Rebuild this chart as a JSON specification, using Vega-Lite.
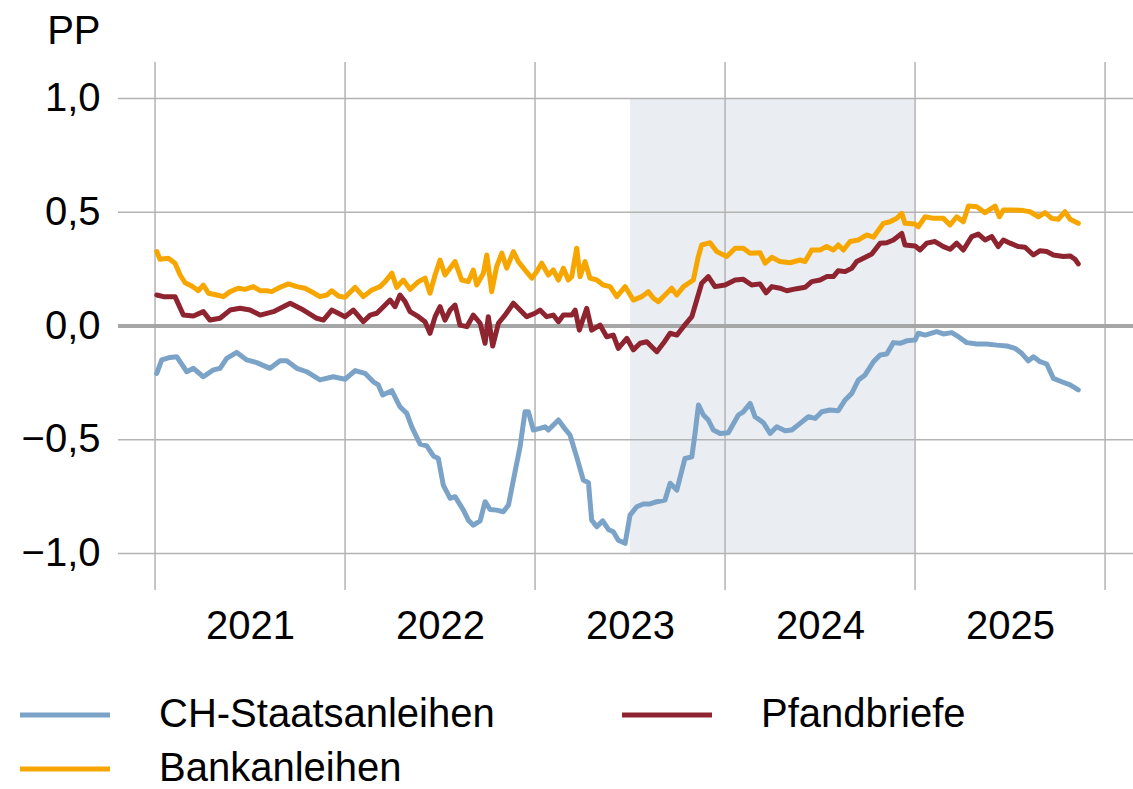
{
  "$schema": "https://vega.github.io/schema/vega-lite/v6.json",
  "width": 1015,
  "height": 528,
  "autosize": {"type": "none"},
  "padding": {"left": 118, "top": 62, "right": 0, "bottom": 199},
  "background": "white",
  "config": {
    "view": {"stroke": null},
    "font": "Liberation Sans",
    "axis": {"labelFont": "Liberation Sans", "titleFont": "Liberation Sans"},
    "legend": {"labelFont": "Liberation Sans"}
  },
  "datasets": {
    "series": [
      {"s":"Bankanleihen","t":2021.009,"v":0.327},{"s":"Bankanleihen","t":2021.026,"v":0.293},{"s":"Bankanleihen","t":2021.070,"v":0.298},{"s":"Bankanleihen","t":2021.105,"v":0.276},{"s":"Bankanleihen","t":2021.132,"v":0.224},{"s":"Bankanleihen","t":2021.158,"v":0.190},{"s":"Bankanleihen","t":2021.193,"v":0.176},{"s":"Bankanleihen","t":2021.228,"v":0.155},{"s":"Bankanleihen","t":2021.254,"v":0.180},{"s":"Bankanleihen","t":2021.281,"v":0.144},{"s":"Bankanleihen","t":2021.325,"v":0.136},{"s":"Bankanleihen","t":2021.359,"v":0.129},{"s":"Bankanleihen","t":2021.395,"v":0.151},{"s":"Bankanleihen","t":2021.438,"v":0.166},{"s":"Bankanleihen","t":2021.474,"v":0.161},{"s":"Bankanleihen","t":2021.517,"v":0.173},{"s":"Bankanleihen","t":2021.553,"v":0.155},{"s":"Bankanleihen","t":2021.588,"v":0.155},{"s":"Bankanleihen","t":2021.614,"v":0.151},{"s":"Bankanleihen","t":2021.658,"v":0.170},{"s":"Bankanleihen","t":2021.702,"v":0.185},{"s":"Bankanleihen","t":2021.746,"v":0.173},{"s":"Bankanleihen","t":2021.789,"v":0.166},{"s":"Bankanleihen","t":2021.833,"v":0.146},{"s":"Bankanleihen","t":2021.868,"v":0.129},{"s":"Bankanleihen","t":2021.904,"v":0.136},{"s":"Bankanleihen","t":2021.930,"v":0.155},{"s":"Bankanleihen","t":2021.965,"v":0.132},{"s":"Bankanleihen","t":2022.000,"v":0.126},
      {"s":"Bankanleihen","t":2022.053,"v":0.170},{"s":"Bankanleihen","t":2022.096,"v":0.129},{"s":"Bankanleihen","t":2022.141,"v":0.158},{"s":"Bankanleihen","t":2022.184,"v":0.173},{"s":"Bankanleihen","t":2022.211,"v":0.195},{"s":"Bankanleihen","t":2022.246,"v":0.232},{"s":"Bankanleihen","t":2022.272,"v":0.170},{"s":"Bankanleihen","t":2022.307,"v":0.202},{"s":"Bankanleihen","t":2022.342,"v":0.161},{"s":"Bankanleihen","t":2022.386,"v":0.195},{"s":"Bankanleihen","t":2022.421,"v":0.210},{"s":"Bankanleihen","t":2022.447,"v":0.144},{"s":"Bankanleihen","t":2022.474,"v":0.224},{"s":"Bankanleihen","t":2022.500,"v":0.290},{"s":"Bankanleihen","t":2022.526,"v":0.224},{"s":"Bankanleihen","t":2022.579,"v":0.283},{"s":"Bankanleihen","t":2022.614,"v":0.202},{"s":"Bankanleihen","t":2022.649,"v":0.195},{"s":"Bankanleihen","t":2022.675,"v":0.246},{"s":"Bankanleihen","t":2022.693,"v":0.180},{"s":"Bankanleihen","t":2022.728,"v":0.232},{"s":"Bankanleihen","t":2022.746,"v":0.312},{"s":"Bankanleihen","t":2022.772,"v":0.151},{"s":"Bankanleihen","t":2022.798,"v":0.261},{"s":"Bankanleihen","t":2022.825,"v":0.320},{"s":"Bankanleihen","t":2022.851,"v":0.254},{"s":"Bankanleihen","t":2022.886,"v":0.327},{"s":"Bankanleihen","t":2022.912,"v":0.283},{"s":"Bankanleihen","t":2022.947,"v":0.246},{"s":"Bankanleihen","t":2022.983,"v":0.210},
      {"s":"Bankanleihen","t":2023.009,"v":0.239},{"s":"Bankanleihen","t":2023.035,"v":0.276},{"s":"Bankanleihen","t":2023.070,"v":0.224},{"s":"Bankanleihen","t":2023.096,"v":0.246},{"s":"Bankanleihen","t":2023.123,"v":0.202},{"s":"Bankanleihen","t":2023.149,"v":0.254},{"s":"Bankanleihen","t":2023.175,"v":0.202},{"s":"Bankanleihen","t":2023.193,"v":0.217},{"s":"Bankanleihen","t":2023.219,"v":0.342},{"s":"Bankanleihen","t":2023.237,"v":0.217},{"s":"Bankanleihen","t":2023.263,"v":0.283},{"s":"Bankanleihen","t":2023.289,"v":0.210},{"s":"Bankanleihen","t":2023.325,"v":0.202},{"s":"Bankanleihen","t":2023.359,"v":0.180},{"s":"Bankanleihen","t":2023.395,"v":0.173},{"s":"Bankanleihen","t":2023.430,"v":0.129},{"s":"Bankanleihen","t":2023.474,"v":0.173},{"s":"Bankanleihen","t":2023.517,"v":0.114},{"s":"Bankanleihen","t":2023.562,"v":0.129},{"s":"Bankanleihen","t":2023.596,"v":0.151},{"s":"Bankanleihen","t":2023.623,"v":0.122},{"s":"Bankanleihen","t":2023.649,"v":0.107},{"s":"Bankanleihen","t":2023.684,"v":0.136},{"s":"Bankanleihen","t":2023.719,"v":0.166},{"s":"Bankanleihen","t":2023.746,"v":0.136},{"s":"Bankanleihen","t":2023.781,"v":0.173},{"s":"Bankanleihen","t":2023.833,"v":0.202},{"s":"Bankanleihen","t":2023.859,"v":0.305},{"s":"Bankanleihen","t":2023.877,"v":0.356},{"s":"Bankanleihen","t":2023.921,"v":0.366},{"s":"Bankanleihen","t":2023.956,"v":0.327},{"s":"Bankanleihen","t":2023.974,"v":0.320},
      {"s":"Bankanleihen","t":2024.009,"v":0.305},{"s":"Bankanleihen","t":2024.053,"v":0.342},{"s":"Bankanleihen","t":2024.096,"v":0.342},{"s":"Bankanleihen","t":2024.132,"v":0.320},{"s":"Bankanleihen","t":2024.184,"v":0.322},{"s":"Bankanleihen","t":2024.211,"v":0.276},{"s":"Bankanleihen","t":2024.246,"v":0.302},{"s":"Bankanleihen","t":2024.289,"v":0.283},{"s":"Bankanleihen","t":2024.342,"v":0.278},{"s":"Bankanleihen","t":2024.395,"v":0.290},{"s":"Bankanleihen","t":2024.421,"v":0.283},{"s":"Bankanleihen","t":2024.456,"v":0.334},{"s":"Bankanleihen","t":2024.500,"v":0.334},{"s":"Bankanleihen","t":2024.535,"v":0.349},{"s":"Bankanleihen","t":2024.570,"v":0.334},{"s":"Bankanleihen","t":2024.596,"v":0.356},{"s":"Bankanleihen","t":2024.623,"v":0.334},{"s":"Bankanleihen","t":2024.658,"v":0.371},{"s":"Bankanleihen","t":2024.702,"v":0.378},{"s":"Bankanleihen","t":2024.746,"v":0.400},{"s":"Bankanleihen","t":2024.781,"v":0.390},{"s":"Bankanleihen","t":2024.833,"v":0.451},{"s":"Bankanleihen","t":2024.868,"v":0.458},{"s":"Bankanleihen","t":2024.904,"v":0.473},{"s":"Bankanleihen","t":2024.930,"v":0.495},{"s":"Bankanleihen","t":2024.947,"v":0.451},{"s":"Bankanleihen","t":2025.000,"v":0.448},
      {"s":"Bankanleihen","t":2025.017,"v":0.436},{"s":"Bankanleihen","t":2025.053,"v":0.480},{"s":"Bankanleihen","t":2025.096,"v":0.473},{"s":"Bankanleihen","t":2025.149,"v":0.473},{"s":"Bankanleihen","t":2025.184,"v":0.444},{"s":"Bankanleihen","t":2025.219,"v":0.480},{"s":"Bankanleihen","t":2025.254,"v":0.458},{"s":"Bankanleihen","t":2025.281,"v":0.527},{"s":"Bankanleihen","t":2025.325,"v":0.524},{"s":"Bankanleihen","t":2025.368,"v":0.498},{"s":"Bankanleihen","t":2025.421,"v":0.527},{"s":"Bankanleihen","t":2025.444,"v":0.480},{"s":"Bankanleihen","t":2025.465,"v":0.510},{"s":"Bankanleihen","t":2025.517,"v":0.510},{"s":"Bankanleihen","t":2025.570,"v":0.507},{"s":"Bankanleihen","t":2025.605,"v":0.502},{"s":"Bankanleihen","t":2025.649,"v":0.480},{"s":"Bankanleihen","t":2025.684,"v":0.498},{"s":"Bankanleihen","t":2025.719,"v":0.473},{"s":"Bankanleihen","t":2025.754,"v":0.469},{"s":"Bankanleihen","t":2025.789,"v":0.502},{"s":"Bankanleihen","t":2025.816,"v":0.469},{"s":"Bankanleihen","t":2025.859,"v":0.451},

      {"s":"Pfandbriefe","t":2021.009,"v":0.136},{"s":"Pfandbriefe","t":2021.044,"v":0.129},{"s":"Pfandbriefe","t":2021.105,"v":0.129},{"s":"Pfandbriefe","t":2021.149,"v":0.048},{"s":"Pfandbriefe","t":2021.202,"v":0.044},{"s":"Pfandbriefe","t":2021.254,"v":0.063},{"s":"Pfandbriefe","t":2021.289,"v":0.026},{"s":"Pfandbriefe","t":2021.342,"v":0.034},{"s":"Pfandbriefe","t":2021.395,"v":0.070},{"s":"Pfandbriefe","t":2021.447,"v":0.078},{"s":"Pfandbriefe","t":2021.500,"v":0.070},{"s":"Pfandbriefe","t":2021.553,"v":0.048},{"s":"Pfandbriefe","t":2021.623,"v":0.063},{"s":"Pfandbriefe","t":2021.711,"v":0.100},{"s":"Pfandbriefe","t":2021.781,"v":0.070},{"s":"Pfandbriefe","t":2021.851,"v":0.034},{"s":"Pfandbriefe","t":2021.886,"v":0.026},{"s":"Pfandbriefe","t":2021.930,"v":0.070},{"s":"Pfandbriefe","t":2022.000,"v":0.041},
      {"s":"Pfandbriefe","t":2022.044,"v":0.070},{"s":"Pfandbriefe","t":2022.096,"v":0.019},{"s":"Pfandbriefe","t":2022.132,"v":0.048},{"s":"Pfandbriefe","t":2022.167,"v":0.056},{"s":"Pfandbriefe","t":2022.202,"v":0.085},{"s":"Pfandbriefe","t":2022.237,"v":0.114},{"s":"Pfandbriefe","t":2022.263,"v":0.085},{"s":"Pfandbriefe","t":2022.289,"v":0.136},{"s":"Pfandbriefe","t":2022.316,"v":0.107},{"s":"Pfandbriefe","t":2022.342,"v":0.063},{"s":"Pfandbriefe","t":2022.386,"v":0.041},{"s":"Pfandbriefe","t":2022.421,"v":0.019},{"s":"Pfandbriefe","t":2022.447,"v":-0.032},{"s":"Pfandbriefe","t":2022.474,"v":0.041},{"s":"Pfandbriefe","t":2022.500,"v":0.085},{"s":"Pfandbriefe","t":2022.526,"v":0.026},{"s":"Pfandbriefe","t":2022.553,"v":0.070},{"s":"Pfandbriefe","t":2022.579,"v":0.092},{"s":"Pfandbriefe","t":2022.605,"v":0.004},{"s":"Pfandbriefe","t":2022.641,"v":-0.003},{"s":"Pfandbriefe","t":2022.675,"v":0.048},{"s":"Pfandbriefe","t":2022.711,"v":0.012},{"s":"Pfandbriefe","t":2022.737,"v":-0.076},{"s":"Pfandbriefe","t":2022.754,"v":0.041},{"s":"Pfandbriefe","t":2022.777,"v":-0.088},{"s":"Pfandbriefe","t":2022.807,"v":0.012},{"s":"Pfandbriefe","t":2022.842,"v":0.048},{"s":"Pfandbriefe","t":2022.886,"v":0.100},{"s":"Pfandbriefe","t":2022.921,"v":0.070},{"s":"Pfandbriefe","t":2022.956,"v":0.041},{"s":"Pfandbriefe","t":2023.000,"v":0.056},
      {"s":"Pfandbriefe","t":2023.026,"v":0.070},{"s":"Pfandbriefe","t":2023.061,"v":0.041},{"s":"Pfandbriefe","t":2023.096,"v":0.048},{"s":"Pfandbriefe","t":2023.123,"v":0.019},{"s":"Pfandbriefe","t":2023.149,"v":0.048},{"s":"Pfandbriefe","t":2023.193,"v":0.048},{"s":"Pfandbriefe","t":2023.211,"v":0.070},{"s":"Pfandbriefe","t":2023.233,"v":-0.018},{"s":"Pfandbriefe","t":2023.254,"v":0.034},{"s":"Pfandbriefe","t":2023.272,"v":0.078},{"s":"Pfandbriefe","t":2023.298,"v":-0.018},{"s":"Pfandbriefe","t":2023.342,"v":0.004},{"s":"Pfandbriefe","t":2023.377,"v":-0.047},{"s":"Pfandbriefe","t":2023.412,"v":-0.040},{"s":"Pfandbriefe","t":2023.438,"v":-0.098},{"s":"Pfandbriefe","t":2023.483,"v":-0.054},{"s":"Pfandbriefe","t":2023.517,"v":-0.105},{"s":"Pfandbriefe","t":2023.553,"v":-0.076},{"s":"Pfandbriefe","t":2023.588,"v":-0.069},{"s":"Pfandbriefe","t":2023.614,"v":-0.091},{"s":"Pfandbriefe","t":2023.641,"v":-0.113},{"s":"Pfandbriefe","t":2023.675,"v":-0.076},{"s":"Pfandbriefe","t":2023.711,"v":-0.032},{"s":"Pfandbriefe","t":2023.746,"v":-0.040},{"s":"Pfandbriefe","t":2023.781,"v":-0.003},{"s":"Pfandbriefe","t":2023.825,"v":0.041},{"s":"Pfandbriefe","t":2023.851,"v":0.114},{"s":"Pfandbriefe","t":2023.877,"v":0.188},{"s":"Pfandbriefe","t":2023.912,"v":0.217},{"s":"Pfandbriefe","t":2023.947,"v":0.173},{"s":"Pfandbriefe","t":2024.000,"v":0.180},
      {"s":"Pfandbriefe","t":2024.053,"v":0.202},{"s":"Pfandbriefe","t":2024.096,"v":0.205},{"s":"Pfandbriefe","t":2024.140,"v":0.180},{"s":"Pfandbriefe","t":2024.184,"v":0.185},{"s":"Pfandbriefe","t":2024.216,"v":0.146},{"s":"Pfandbriefe","t":2024.246,"v":0.173},{"s":"Pfandbriefe","t":2024.289,"v":0.166},{"s":"Pfandbriefe","t":2024.325,"v":0.155},{"s":"Pfandbriefe","t":2024.377,"v":0.164},{"s":"Pfandbriefe","t":2024.421,"v":0.170},{"s":"Pfandbriefe","t":2024.456,"v":0.195},{"s":"Pfandbriefe","t":2024.500,"v":0.202},{"s":"Pfandbriefe","t":2024.535,"v":0.217},{"s":"Pfandbriefe","t":2024.570,"v":0.217},{"s":"Pfandbriefe","t":2024.596,"v":0.243},{"s":"Pfandbriefe","t":2024.632,"v":0.239},{"s":"Pfandbriefe","t":2024.667,"v":0.254},{"s":"Pfandbriefe","t":2024.693,"v":0.283},{"s":"Pfandbriefe","t":2024.728,"v":0.298},{"s":"Pfandbriefe","t":2024.772,"v":0.316},{"s":"Pfandbriefe","t":2024.816,"v":0.364},{"s":"Pfandbriefe","t":2024.851,"v":0.366},{"s":"Pfandbriefe","t":2024.886,"v":0.378},{"s":"Pfandbriefe","t":2024.930,"v":0.407},{"s":"Pfandbriefe","t":2024.947,"v":0.356},{"s":"Pfandbriefe","t":2025.000,"v":0.352},
      {"s":"Pfandbriefe","t":2025.026,"v":0.334},{"s":"Pfandbriefe","t":2025.061,"v":0.364},{"s":"Pfandbriefe","t":2025.105,"v":0.371},{"s":"Pfandbriefe","t":2025.149,"v":0.349},{"s":"Pfandbriefe","t":2025.184,"v":0.337},{"s":"Pfandbriefe","t":2025.219,"v":0.364},{"s":"Pfandbriefe","t":2025.254,"v":0.334},{"s":"Pfandbriefe","t":2025.298,"v":0.393},{"s":"Pfandbriefe","t":2025.333,"v":0.404},{"s":"Pfandbriefe","t":2025.368,"v":0.378},{"s":"Pfandbriefe","t":2025.404,"v":0.393},{"s":"Pfandbriefe","t":2025.438,"v":0.349},{"s":"Pfandbriefe","t":2025.465,"v":0.378},{"s":"Pfandbriefe","t":2025.500,"v":0.364},{"s":"Pfandbriefe","t":2025.544,"v":0.349},{"s":"Pfandbriefe","t":2025.579,"v":0.346},{"s":"Pfandbriefe","t":2025.623,"v":0.312},{"s":"Pfandbriefe","t":2025.658,"v":0.331},{"s":"Pfandbriefe","t":2025.693,"v":0.327},{"s":"Pfandbriefe","t":2025.728,"v":0.312},{"s":"Pfandbriefe","t":2025.781,"v":0.305},{"s":"Pfandbriefe","t":2025.816,"v":0.308},{"s":"Pfandbriefe","t":2025.842,"v":0.293},{"s":"Pfandbriefe","t":2025.859,"v":0.273},

      {"s":"CH-Staatsanleihen","t":2021.009,"v":-0.208},{"s":"CH-Staatsanleihen","t":2021.035,"v":-0.149},{"s":"CH-Staatsanleihen","t":2021.079,"v":-0.138},{"s":"CH-Staatsanleihen","t":2021.114,"v":-0.135},{"s":"CH-Staatsanleihen","t":2021.167,"v":-0.201},{"s":"CH-Staatsanleihen","t":2021.202,"v":-0.186},{"s":"CH-Staatsanleihen","t":2021.254,"v":-0.223},{"s":"CH-Staatsanleihen","t":2021.307,"v":-0.193},{"s":"CH-Staatsanleihen","t":2021.342,"v":-0.186},{"s":"CH-Staatsanleihen","t":2021.377,"v":-0.142},{"s":"CH-Staatsanleihen","t":2021.430,"v":-0.116},{"s":"CH-Staatsanleihen","t":2021.483,"v":-0.149},{"s":"CH-Staatsanleihen","t":2021.535,"v":-0.161},{"s":"CH-Staatsanleihen","t":2021.605,"v":-0.186},{"s":"CH-Staatsanleihen","t":2021.658,"v":-0.153},{"s":"CH-Staatsanleihen","t":2021.693,"v":-0.153},{"s":"CH-Staatsanleihen","t":2021.746,"v":-0.186},{"s":"CH-Staatsanleihen","t":2021.798,"v":-0.201},{"s":"CH-Staatsanleihen","t":2021.868,"v":-0.237},{"s":"CH-Staatsanleihen","t":2021.938,"v":-0.223},{"s":"CH-Staatsanleihen","t":2022.000,"v":-0.234},
      {"s":"CH-Staatsanleihen","t":2022.053,"v":-0.196},{"s":"CH-Staatsanleihen","t":2022.105,"v":-0.208},{"s":"CH-Staatsanleihen","t":2022.149,"v":-0.245},{"s":"CH-Staatsanleihen","t":2022.175,"v":-0.259},{"s":"CH-Staatsanleihen","t":2022.198,"v":-0.303},{"s":"CH-Staatsanleihen","t":2022.246,"v":-0.284},{"s":"CH-Staatsanleihen","t":2022.289,"v":-0.355},{"s":"CH-Staatsanleihen","t":2022.325,"v":-0.384},{"s":"CH-Staatsanleihen","t":2022.351,"v":-0.443},{"s":"CH-Staatsanleihen","t":2022.395,"v":-0.519},{"s":"CH-Staatsanleihen","t":2022.430,"v":-0.527},{"s":"CH-Staatsanleihen","t":2022.465,"v":-0.571},{"s":"CH-Staatsanleihen","t":2022.491,"v":-0.582},{"s":"CH-Staatsanleihen","t":2022.517,"v":-0.699},{"s":"CH-Staatsanleihen","t":2022.553,"v":-0.757},{"s":"CH-Staatsanleihen","t":2022.579,"v":-0.750},{"s":"CH-Staatsanleihen","t":2022.623,"v":-0.809},{"s":"CH-Staatsanleihen","t":2022.649,"v":-0.853},{"s":"CH-Staatsanleihen","t":2022.675,"v":-0.875},{"s":"CH-Staatsanleihen","t":2022.711,"v":-0.856},{"s":"CH-Staatsanleihen","t":2022.737,"v":-0.772},{"s":"CH-Staatsanleihen","t":2022.763,"v":-0.806},{"s":"CH-Staatsanleihen","t":2022.798,"v":-0.809},{"s":"CH-Staatsanleihen","t":2022.833,"v":-0.816},{"s":"CH-Staatsanleihen","t":2022.860,"v":-0.787},{"s":"CH-Staatsanleihen","t":2022.886,"v":-0.677},{"s":"CH-Staatsanleihen","t":2022.921,"v":-0.531},{"s":"CH-Staatsanleihen","t":2022.947,"v":-0.377},{"s":"CH-Staatsanleihen","t":2022.965,"v":-0.377},{"s":"CH-Staatsanleihen","t":2022.991,"v":-0.457},
      {"s":"CH-Staatsanleihen","t":2023.026,"v":-0.450},{"s":"CH-Staatsanleihen","t":2023.053,"v":-0.443},{"s":"CH-Staatsanleihen","t":2023.070,"v":-0.457},{"s":"CH-Staatsanleihen","t":2023.123,"v":-0.413},{"s":"CH-Staatsanleihen","t":2023.149,"v":-0.443},{"s":"CH-Staatsanleihen","t":2023.184,"v":-0.479},{"s":"CH-Staatsanleihen","t":2023.219,"v":-0.575},{"s":"CH-Staatsanleihen","t":2023.254,"v":-0.677},{"s":"CH-Staatsanleihen","t":2023.281,"v":-0.689},{"s":"CH-Staatsanleihen","t":2023.298,"v":-0.853},{"s":"CH-Staatsanleihen","t":2023.325,"v":-0.882},{"s":"CH-Staatsanleihen","t":2023.356,"v":-0.856},{"s":"CH-Staatsanleihen","t":2023.386,"v":-0.894},{"s":"CH-Staatsanleihen","t":2023.412,"v":-0.904},{"s":"CH-Staatsanleihen","t":2023.438,"v":-0.941},{"s":"CH-Staatsanleihen","t":2023.474,"v":-0.955},{"s":"CH-Staatsanleihen","t":2023.500,"v":-0.831},{"s":"CH-Staatsanleihen","t":2023.535,"v":-0.794},{"s":"CH-Staatsanleihen","t":2023.570,"v":-0.782},{"s":"CH-Staatsanleihen","t":2023.605,"v":-0.782},{"s":"CH-Staatsanleihen","t":2023.641,"v":-0.772},{"s":"CH-Staatsanleihen","t":2023.684,"v":-0.765},{"s":"CH-Staatsanleihen","t":2023.711,"v":-0.691},{"s":"CH-Staatsanleihen","t":2023.746,"v":-0.721},{"s":"CH-Staatsanleihen","t":2023.789,"v":-0.582},{"s":"CH-Staatsanleihen","t":2023.825,"v":-0.575},{"s":"CH-Staatsanleihen","t":2023.842,"v":-0.472},{"s":"CH-Staatsanleihen","t":2023.860,"v":-0.347},{"s":"CH-Staatsanleihen","t":2023.886,"v":-0.391},{"s":"CH-Staatsanleihen","t":2023.912,"v":-0.413},{"s":"CH-Staatsanleihen","t":2023.938,"v":-0.457},{"s":"CH-Staatsanleihen","t":2023.974,"v":-0.472},
      {"s":"CH-Staatsanleihen","t":2024.017,"v":-0.469},{"s":"CH-Staatsanleihen","t":2024.070,"v":-0.391},{"s":"CH-Staatsanleihen","t":2024.096,"v":-0.377},{"s":"CH-Staatsanleihen","t":2024.132,"v":-0.340},{"s":"CH-Staatsanleihen","t":2024.158,"v":-0.399},{"s":"CH-Staatsanleihen","t":2024.202,"v":-0.425},{"s":"CH-Staatsanleihen","t":2024.237,"v":-0.472},{"s":"CH-Staatsanleihen","t":2024.272,"v":-0.443},{"s":"CH-Staatsanleihen","t":2024.316,"v":-0.460},{"s":"CH-Staatsanleihen","t":2024.351,"v":-0.457},{"s":"CH-Staatsanleihen","t":2024.395,"v":-0.428},{"s":"CH-Staatsanleihen","t":2024.438,"v":-0.399},{"s":"CH-Staatsanleihen","t":2024.474,"v":-0.406},{"s":"CH-Staatsanleihen","t":2024.509,"v":-0.377},{"s":"CH-Staatsanleihen","t":2024.553,"v":-0.369},{"s":"CH-Staatsanleihen","t":2024.596,"v":-0.372},{"s":"CH-Staatsanleihen","t":2024.632,"v":-0.325},{"s":"CH-Staatsanleihen","t":2024.667,"v":-0.296},{"s":"CH-Staatsanleihen","t":2024.702,"v":-0.237},{"s":"CH-Staatsanleihen","t":2024.737,"v":-0.215},{"s":"CH-Staatsanleihen","t":2024.781,"v":-0.157},{"s":"CH-Staatsanleihen","t":2024.816,"v":-0.127},{"s":"CH-Staatsanleihen","t":2024.851,"v":-0.123},{"s":"CH-Staatsanleihen","t":2024.886,"v":-0.073},{"s":"CH-Staatsanleihen","t":2024.921,"v":-0.076},{"s":"CH-Staatsanleihen","t":2024.956,"v":-0.065},{"s":"CH-Staatsanleihen","t":2025.000,"v":-0.062},
      {"s":"CH-Staatsanleihen","t":2025.017,"v":-0.032},{"s":"CH-Staatsanleihen","t":2025.053,"v":-0.040},{"s":"CH-Staatsanleihen","t":2025.114,"v":-0.025},{"s":"CH-Staatsanleihen","t":2025.149,"v":-0.035},{"s":"CH-Staatsanleihen","t":2025.193,"v":-0.029},{"s":"CH-Staatsanleihen","t":2025.228,"v":-0.047},{"s":"CH-Staatsanleihen","t":2025.272,"v":-0.073},{"s":"CH-Staatsanleihen","t":2025.325,"v":-0.079},{"s":"CH-Staatsanleihen","t":2025.377,"v":-0.079},{"s":"CH-Staatsanleihen","t":2025.430,"v":-0.084},{"s":"CH-Staatsanleihen","t":2025.483,"v":-0.088},{"s":"CH-Staatsanleihen","t":2025.526,"v":-0.098},{"s":"CH-Staatsanleihen","t":2025.561,"v":-0.120},{"s":"CH-Staatsanleihen","t":2025.596,"v":-0.153},{"s":"CH-Staatsanleihen","t":2025.623,"v":-0.135},{"s":"CH-Staatsanleihen","t":2025.658,"v":-0.157},{"s":"CH-Staatsanleihen","t":2025.693,"v":-0.167},{"s":"CH-Staatsanleihen","t":2025.728,"v":-0.230},{"s":"CH-Staatsanleihen","t":2025.772,"v":-0.245},{"s":"CH-Staatsanleihen","t":2025.816,"v":-0.259},{"s":"CH-Staatsanleihen","t":2025.859,"v":-0.281}
    ]
  },
  "layer": [
    {
      "data": {"values": [{"t": 2023.5, "t2": 2025.0, "v": -1, "v2": 1}]},
      "mark": {"type": "rect", "color": "#EAEEF2"},
      "encoding": {
        "x": {
          "field": "t", "type": "quantitative", "title": null,
          "scale": {"domain": [2020.805, 2026.147], "nice": false, "zero": false},
          "axis": {
            "values": [2021, 2022, 2023, 2024, 2025],
            "labelExpr": "format(datum.value, 'd')",
            "labelOffset": 95, "labelFlush": false, "labelOverlap": false,
            "grid": false, "ticks": false, "tickSize": 0, "domain": false,
            "labelFontSize": 40, "labelColor": "#000000", "labelPadding": 16
          }
        },
        "x2": {"field": "t2"},
        "y": {
          "field": "v", "type": "quantitative", "title": "PP",
          "scale": {"domain": [-1.16, 1.16], "nice": false, "zero": false},
          "axis": {
            "values": [-1, -0.5, 0, 0.5, 1],
            "labelExpr": "replace(format(datum.value, '.1f'), '.', ',')",
            "grid": false, "ticks": false, "tickSize": 0, "domain": false,
            "labelFontSize": 40, "labelColor": "#000000", "labelPadding": 18,
            "titleAngle": 0, "titleX": -18, "titleY": -19, "titleAlign": "right",
            "titleBaseline": "alphabetic", "titleFontSize": 40, "titleFontWeight": "normal", "titleColor": "#000000"
          }
        },
        "y2": {"field": "v2"}
      }
    },
    {
      "data": {"values": [{"t": 2021}, {"t": 2022}, {"t": 2023}, {"t": 2024}, {"t": 2025}, {"t": 2026}]},
      "mark": {"type": "rule", "color": "#B3B3B3", "strokeWidth": 1.5},
      "encoding": {"x": {"field": "t", "type": "quantitative", "title": null}}
    },
    {
      "data": {"values": [{"v": -1}, {"v": -0.5}, {"v": 0.5}, {"v": 1}]},
      "mark": {"type": "rule", "color": "#B3B3B3", "strokeWidth": 1.5},
      "encoding": {"y": {"field": "v", "type": "quantitative", "title": "PP"}}
    },
    {
      "data": {"values": [{"v": 0}]},
      "mark": {"type": "rule", "color": "#A6A6A6", "strokeWidth": 4},
      "encoding": {"y": {"field": "v", "type": "quantitative", "title": "PP"}}
    },
    {
      "data": {"name": "series"},
      "mark": {"type": "line", "strokeWidth": 5, "strokeJoin": "round", "strokeCap": "round"},
      "encoding": {
        "x": {"field": "t", "type": "quantitative", "title": null},
        "y": {"field": "v", "type": "quantitative", "title": "PP"},
        "color": {
          "field": "s", "type": "nominal",
          "scale": {"domain": ["CH-Staatsanleihen", "Bankanleihen", "Pfandbriefe"], "range": ["#7BA3C8", "#F7A600", "#8E2430"]},
          "legend": {
            "title": null, "orient": "none", "legendX": -73, "legendY": 633,
            "columns": 2, "columnPadding": 117, "rowPadding": 14,
            "symbolType": "M-3,0H3", "symbolSize": 900, "symbolStrokeWidth": 5,
            "labelFontSize": 40, "labelOffset": 74, "labelLimit": 0, "labelColor": "#000000"
          }
        }
      }
    }
  ]
}
